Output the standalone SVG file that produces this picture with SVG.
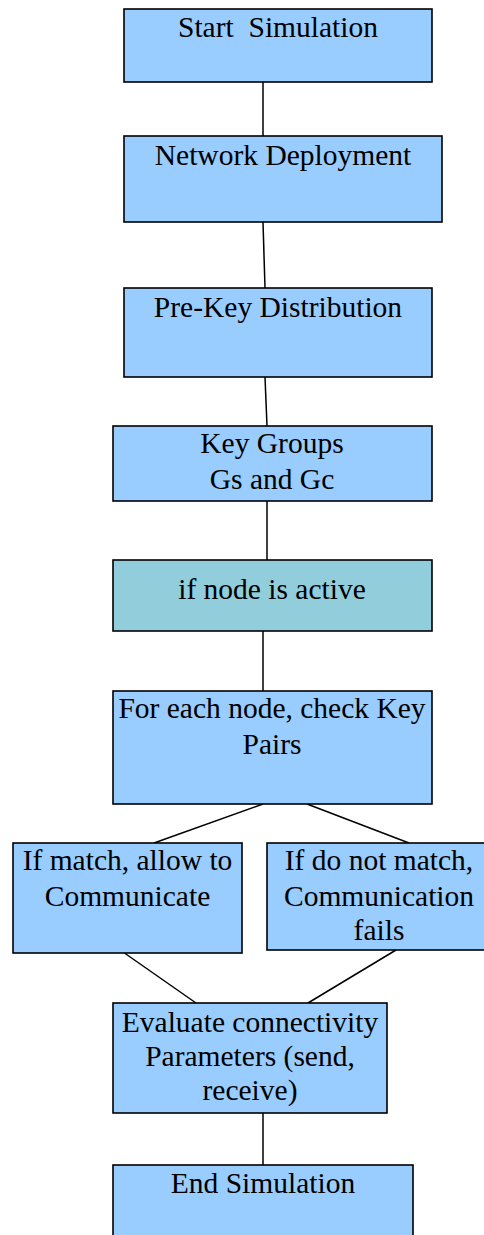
<svg xmlns="http://www.w3.org/2000/svg" width="484" height="1235" viewBox="0 0 484 1235">
<style>
.box{fill:#99CCFF;stroke:#000;stroke-width:1.6}
.teal{fill:#92CDDC;stroke:#000;stroke-width:1.6}
.lbl{font-family:"Liberation Serif","Times New Roman",serif;font-size:29.5px;fill:#000;text-anchor:middle;white-space:pre}
.conn line{stroke:#000;stroke-width:1.5}
</style>
<rect width="484" height="1235" fill="#fff"/>
<g class="conn" id="connectors">
<line x1="263" y1="82" x2="263" y2="136"/>
<line x1="263" y1="222" x2="265" y2="288"/>
<line x1="265" y1="377" x2="267" y2="426"/>
<line x1="267" y1="501" x2="267" y2="560"/>
<line x1="263" y1="631" x2="263" y2="691"/>
<line x1="263" y1="804" x2="154" y2="843"/>
<line x1="307" y1="804" x2="409" y2="843"/>
<line x1="123" y1="952" x2="196" y2="1003"/>
<line x1="396" y1="950" x2="308" y2="1003"/>
<line x1="263" y1="1113" x2="263" y2="1165"/>
</g>
<g id="start">
<rect class="box" x="124" y="9" width="308" height="73"/>
<text class="lbl" x="278" y="37" xml:space="preserve">Start  Simulation</text>
</g>
<g id="deploy">
<rect class="box" x="124" y="136" width="318" height="86"/>
<text class="lbl" x="283" y="165">Network Deployment</text>
</g>
<g id="prekey">
<rect class="box" x="124" y="288" width="308" height="89"/>
<text class="lbl" x="278" y="317">Pre-Key Distribution</text>
</g>
<g id="keygroups">
<rect class="box" x="113" y="426" width="319" height="75"/>
<text class="lbl" x="272" y="453">Key Groups</text>
<text class="lbl" x="272" y="489">Gs and Gc</text>
</g>
<g id="active">
<rect class="teal" x="113" y="560" width="319" height="71"/>
<text class="lbl" x="272" y="599">if node is active</text>
</g>
<g id="check">
<rect class="box" x="113" y="691" width="319" height="113"/>
<text class="lbl" x="272" y="718">For each node, check Key</text>
<text class="lbl" x="272" y="754">Pairs</text>
</g>
<g id="match">
<rect class="box" x="13" y="843" width="229" height="110"/>
<text class="lbl" x="127.5" y="870">If match, allow to</text>
<text class="lbl" x="127.5" y="906">Communicate</text>
</g>
<g id="nomatch">
<rect class="box" x="267" y="843" width="225" height="107"/>
<text class="lbl" x="379" y="870">If do not match,</text>
<text class="lbl" x="379" y="906">Communication</text>
<text class="lbl" x="379" y="940">fails</text>
</g>
<g id="evaluate">
<rect class="box" x="113" y="1003" width="274" height="110"/>
<text class="lbl" x="250" y="1032">Evaluate connectivity</text>
<text class="lbl" x="250" y="1066">Parameters (send,</text>
<text class="lbl" x="250" y="1100">receive)</text>
</g>
<g id="end">
<rect class="box" x="113" y="1165" width="300" height="90"/>
<text class="lbl" x="263" y="1193">End Simulation</text>
</g>
</svg>
